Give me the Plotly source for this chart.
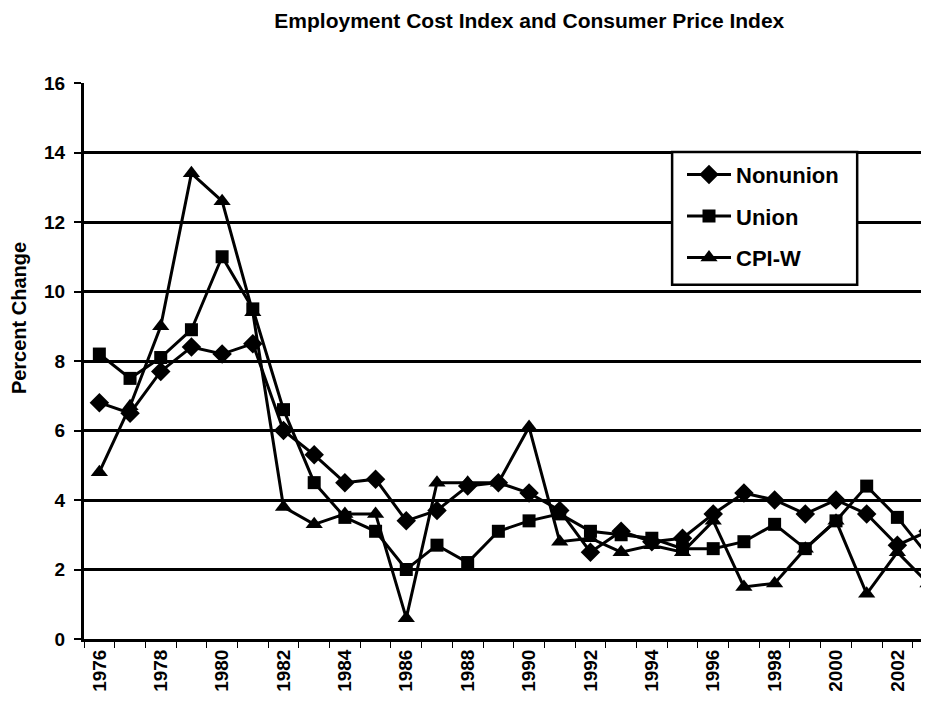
import plotly.graph_objects as go

years = list(range(1976, 2004))
nonunion = [6.8, 6.5, 7.7, 8.4, 8.2, 8.5, 6.0, 5.3, 4.5, 4.6, 3.4, 3.7, 4.4, 4.5, 4.2, 3.7,
            2.5, 3.1, 2.8, 2.9, 3.6, 4.2, 4.0, 3.6, 4.0, 3.6, 2.7, 3.1]
union = [8.2, 7.5, 8.1, 8.9, 11.0, 9.5, 6.6, 4.5, 3.5, 3.1, 2.0, 2.7, 2.2, 3.1, 3.4, 3.6,
         3.1, 3.0, 2.9, 2.6, 2.6, 2.8, 3.3, 2.6, 3.4, 4.4, 3.5, 2.4]
cpiw = [4.8, 6.7, 9.0, 13.4, 12.6, 9.4, 3.8, 3.3, 3.6, 3.6, 0.6, 4.5, 4.5, 4.5, 6.1, 2.8,
        2.9, 2.5, 2.7, 2.5, 3.4, 1.5, 1.6, 2.6, 3.4, 1.3, 2.5, 1.6]
label_years = [y for y in years if y % 2 == 0]
tick_labels = [str(y) for y in label_years]
boundaries = [y - 0.5 for y in years]

title_text = "Employment Cost Index and Consumer Price Index"
y_title = "Percent Change"
font_family = "Liberation Sans, Arial, sans-serif"

fig = go.Figure()
series = [("Nonunion", nonunion, "diamond", 15),
          ("Union", union, "square", 13),
          ("CPI-W", cpiw, "triangle-up", 15)]
for name, vals, sym, sz in series:
    fig.add_trace(go.Scatter(
        x=years, y=vals, name=name, mode="lines+markers", legendgroup=name,
        line=dict(color="black", width=3),
        marker=dict(symbol=sym, size=sz, color="black", line=dict(width=0)),
    ))

# legend frame
fig.add_shape(type="rect", xref="paper", yref="paper",
              x0=0.696, x1=0.915, y0=0.637, y1=0.876,
              fillcolor="white", line=dict(color="black", width=2.5), layer="above")

fig.add_annotation(text="<b>" + y_title + "</b>", xref="paper", yref="paper",
                   x=-0.077, y=0.577, xanchor="center", yanchor="middle",
                   textangle=-90, showarrow=False,
                   font=dict(size=20, color="black", family=font_family))

fig.update_layout(
    width=921, height=698,
    margin=dict(l=76, r=0, t=75, b=67, autoexpand=False),
    paper_bgcolor="white", plot_bgcolor="white",
    font=dict(family=font_family, color="black"),
    title=dict(text="<b>" + title_text + "</b>", x=0.566, xanchor="center",
               y=0.982, yanchor="middle", font=dict(size=21, color="black")),
    showlegend=True,
    legend=dict(x=0.7077, y=0.873, xanchor="left", yanchor="top",
                bgcolor="rgba(0,0,0,0)", borderwidth=0,
                font=dict(size=22, color="black", weight="bold"),
                tracegroupgap=10, itemwidth=44),
)

fig.update_xaxes(
    range=[1975.5, 2003.03], showgrid=False, zeroline=False,
    showline=True, linecolor="black", linewidth=3,
    tickmode="array", tickvals=label_years, ticktext=tick_labels,
    ticks="", tickangle=-90,
    tickfont=dict(size=19, color="black", weight="bold"),
    minor=dict(tickmode="array", tickvals=boundaries, ticks="outside",
               ticklen=6, tickwidth=1, tickcolor="black", showgrid=False),
)
fig.update_yaxes(
    range=[0, 16], dtick=2, tick0=0,
    showgrid=True, gridcolor="black", gridwidth=3,
    zeroline=False, showline=True, linecolor="black", linewidth=3,
    ticks="outside", ticklen=7, tickwidth=2, tickcolor="black",
    ticklabelstandoff=5,
    tickfont=dict(size=19, color="black", weight="bold"),
)

fig.write_html("out.html")
